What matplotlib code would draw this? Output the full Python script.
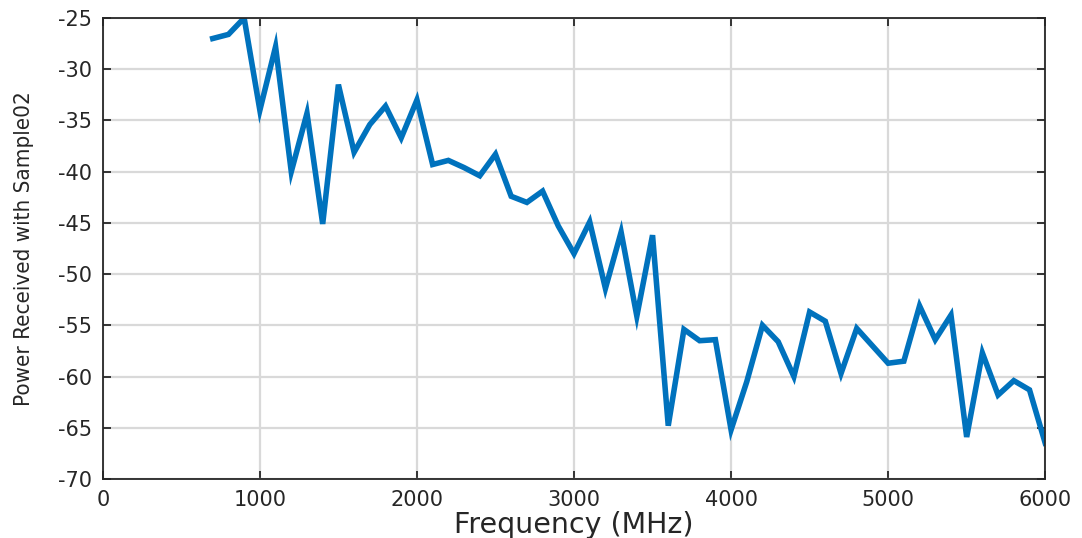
import matplotlib
matplotlib.use("Agg")
import matplotlib.pyplot as plt
import numpy as np

freq_mhz = list(range(700, 6001, 100))
power_dbm = [
    -27.0, -26.6, -25.0, -34.0, -27.8, -40.0, -34.3, -45.1, -31.5, -38.1,
    -35.4, -33.6, -36.7, -33.0, -39.3, -38.9, -39.6, -40.4, -38.3, -42.4,
    -43.0, -41.9, -45.3, -48.0, -44.9, -51.4, -45.9, -54.1, -46.2, -64.8,
    -55.4, -56.5, -56.4, -65.2, -60.5, -55.0, -56.6, -60.0, -53.7, -54.6,
    -59.7, -55.3, -57.0, -58.7, -58.5, -53.1, -56.4, -54.0, -65.9, -57.7,
    -61.8, -60.4, -61.3, -66.5,
]
x_ticks = [0, 1000, 2000, 3000, 4000, 5000, 6000]
y_ticks = [-70, -65, -60, -55, -50, -45, -40, -35, -30, -25]

plt.rcParams['font.family'] = ['DejaVu Sans']
plt.rcParams['axes.unicode_minus'] = False

fig = plt.figure(figsize=(10.82, 5.38), dpi=100)
ax = fig.add_axes([0.095, 0.1097, 0.871, 0.8568])

ax.plot(freq_mhz, power_dbm, color='#0072BD', linewidth=4.0, solid_joinstyle='miter')

ax.set_xlim(0, 6000)
ax.set_ylim(-70, -25)
ax.set_xticks(x_ticks)
ax.set_yticks(y_ticks)
ax.grid(True, color='#d9d9d9', linewidth=1.6)
ax.set_axisbelow(True)

for s in ax.spines.values():
    s.set_linewidth(1.3)
    s.set_color('#262626')

ax.tick_params(direction='in', length=6, width=1.3, top=True, right=True,
               colors='#262626', labelsize=15)
ax.tick_params(axis='y', pad=8)
ax.tick_params(axis='x', pad=8)

ax.set_xlabel('Frequency (MHz)', fontsize=20.5, color='#262626', labelpad=1)
ax.set_ylabel('Power Received with Sample02', fontsize=16, color='#262626',
              family='DejaVu Sans', fontstretch='condensed', labelpad=17)

fig.savefig('out.png', dpi=100)
